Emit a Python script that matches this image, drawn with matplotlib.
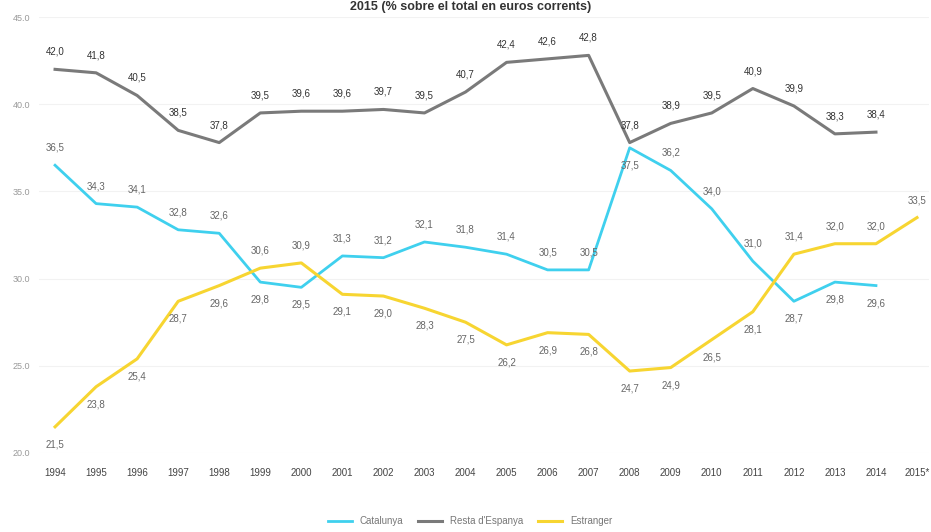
import numpy as np
from matplotlib import pyplot as plt

# dades
anys = ['1994', '1995', '1996', '1997', '1998', '1999', '2000', '2001', '2002', '2003', '2004',
        '2005', '2006', '2007', '2008', '2009', '2010', '2011', '2012', '2013', '2014', '2015*']
catalunya = [36.5, 34.3, 34.1, 32.8, 32.6, 29.8, 29.5, 31.3, 31.2, 32.1, 31.8,
             31.4, 30.5, 30.5, 37.5, 36.2, 34.0, 31.0, 28.7, 29.8, 29.6]
resta = [42.0, 41.8, 40.5, 38.5, 37.8, 39.5, 39.6, 39.6, 39.7, 39.5, 40.7,
         42.4, 42.6, 42.8, 37.8, 38.9, 39.5, 40.9, 39.9, 38.3, 38.4]
estranger = [21.5, 23.8, 25.4, 28.7, 29.6, 30.6, 30.9, 29.1, 29.0, 28.3, 27.5,
             26.2, 26.9, 26.8, 24.7, 24.9, 26.5, 28.1, 31.4, 32.0, 32.0, 33.5]
y_ticks = [20.0, 25.0, 30.0, 35.0, 40.0, 45.0]

# on va cada etiqueta: 1 a sobre, -1 a sota
pos_cat = [1, 1, 1, 1, 1, -1, -1, 1, 1, 1, 1, 1, 1, 1, -1, 1, 1, 1, -1, -1, -1]
pos_est = [-1, -1, -1, -1, -1, 1, 1, -1, -1, -1, -1, -1, -1, -1, -1, -1, -1, -1, 1, 1, 1, 1]

plt.rcParams['font.family'] = ['Liberation Sans Narrow', 'Liberation Sans', 'DejaVu Sans']

c_cat = '#3fd0ee'
c_res = '#7a7a7a'
c_est = '#f7d531'

fig = plt.figure(figsize=(9.31, 5.32), dpi=100)
ax = fig.add_axes([0.0415, 0.1485, 0.9567, 0.8195])

x = np.arange(len(anys))
ax.plot(x[:len(catalunya)], catalunya, color=c_cat, lw=2, label='Catalunya')
ax.plot(x[:len(resta)], resta, color=c_res, lw=2.2, label="Resta d'Espanya")
ax.plot(x, estranger, color=c_est, lw=2.2, label='Estranger')


def fmt(v):
    return f'{v:.1f}'.replace('.', ',')


for i, v in enumerate(resta):
    ax.annotate(fmt(v), (i, v), xytext=(0, 9), textcoords='offset points',
                ha='center', va='bottom', fontsize=7, color='#333333')
for i, v in enumerate(catalunya):
    ax.annotate(fmt(v), (i, v), xytext=(0, 9 * pos_cat[i]), textcoords='offset points',
                ha='center', va='bottom' if pos_cat[i] > 0 else 'top', fontsize=7, color='#666666')
for i, v in enumerate(estranger):
    ax.annotate(fmt(v), (i, v), xytext=(0, 9 * pos_est[i]), textcoords='offset points',
                ha='center', va='bottom' if pos_est[i] > 0 else 'top', fontsize=7, color='#666666')

ax.set_xlim(-0.4, 21.3)
ax.set_ylim(20, 45)
ax.set_xticks(x)
ax.set_xticklabels(anys, fontsize=7, color='#444444')
ax.set_yticks(y_ticks)
ax.set_yticklabels([f'{t:.1f}' for t in y_ticks], fontsize=6.5, color='#999999')
ax.tick_params(length=0)
ax.tick_params(axis='x', pad=11)
ax.tick_params(axis='y', pad=6)
ax.grid(axis='y', color='#f2f2f2', lw=0.8)
ax.set_axisbelow(True)
for s in ax.spines.values():
    s.set_visible(False)

fig.text(0.505, 1 - 7 / 532, '2015 (% sobre el total en euros corrents)', ha='center',
         va='center', fontsize=9, fontweight='bold', color='#333333')

fig.legend(loc='center', bbox_to_anchor=(0.505, 0.02), ncol=3, frameon=False,
           fontsize=7, labelcolor='#777777', handlelength=2.5, columnspacing=1.5)

plt.savefig('out.png', dpi=100)
plt.close()
